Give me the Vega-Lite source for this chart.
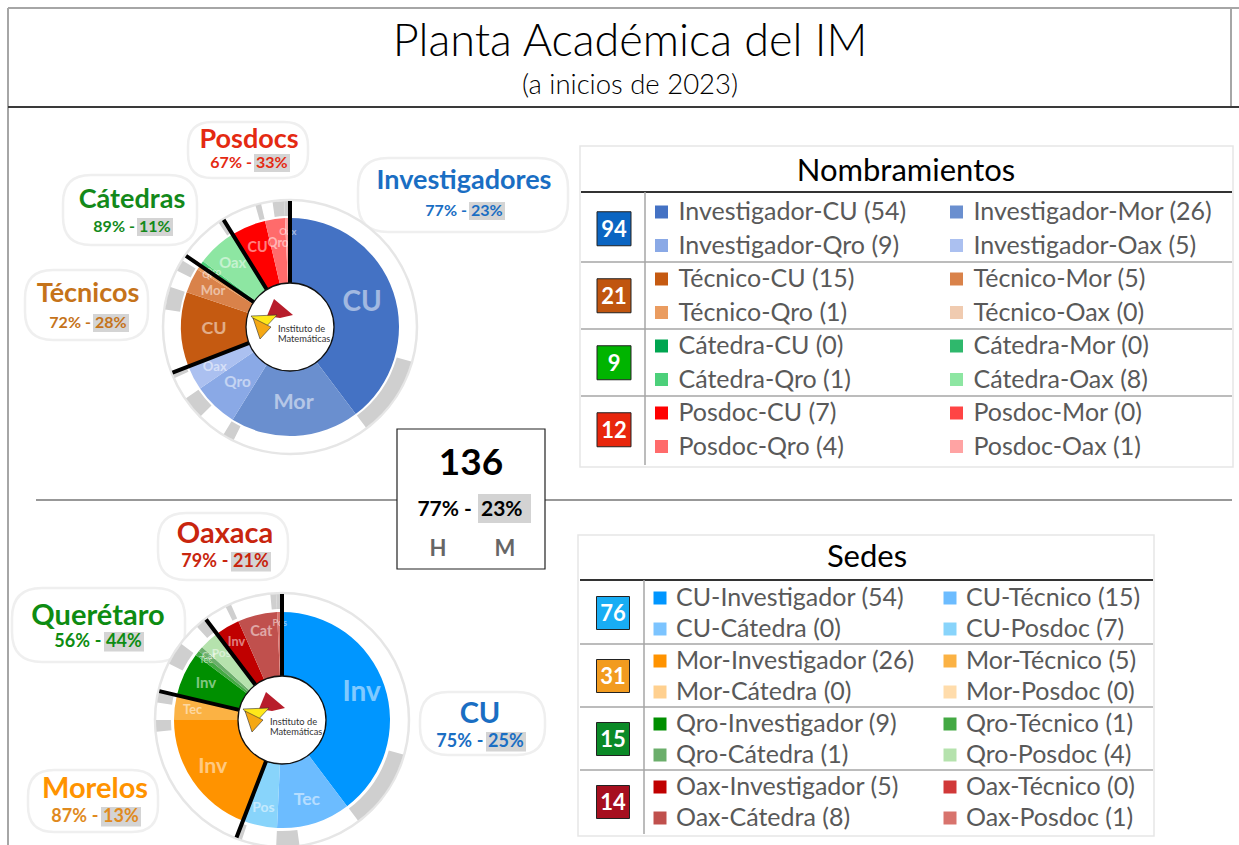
{
"$schema": "https://vega.github.io/schema/vega-lite/v6.json",
"width": 1239, "height": 845, "padding": 0, "autosize": {"type": "none"}, "background": "white",
"config": {"view": {"stroke": null}, "axis": {"disable": true}, "legend": {"disable": true}, "text": {"font": "Lato"}},
"datasets": {
 "plantilla": [
  {"tipo": "Investigador", "sede": "CU", "total": 54, "hombres": 40, "mujeres": 14},
  {"tipo": "Investigador", "sede": "Mor", "total": 26, "hombres": 24, "mujeres": 2},
  {"tipo": "Investigador", "sede": "Qro", "total": 9, "hombres": 5, "mujeres": 4},
  {"tipo": "Investigador", "sede": "Oax", "total": 5, "hombres": 4, "mujeres": 1},
  {"tipo": "Técnico", "sede": "CU", "total": 15, "hombres": 11, "mujeres": 4},
  {"tipo": "Técnico", "sede": "Mor", "total": 5, "hombres": 3, "mujeres": 2},
  {"tipo": "Técnico", "sede": "Qro", "total": 1, "hombres": 1, "mujeres": 0},
  {"tipo": "Técnico", "sede": "Oax", "total": 0, "hombres": 0, "mujeres": 0},
  {"tipo": "Cátedra", "sede": "CU", "total": 0, "hombres": 0, "mujeres": 0},
  {"tipo": "Cátedra", "sede": "Mor", "total": 0, "hombres": 0, "mujeres": 0},
  {"tipo": "Cátedra", "sede": "Qro", "total": 1, "hombres": 1, "mujeres": 0},
  {"tipo": "Cátedra", "sede": "Oax", "total": 8, "hombres": 7, "mujeres": 1},
  {"tipo": "Posdoc", "sede": "CU", "total": 7, "hombres": 6, "mujeres": 1},
  {"tipo": "Posdoc", "sede": "Mor", "total": 0, "hombres": 0, "mujeres": 0},
  {"tipo": "Posdoc", "sede": "Qro", "total": 4, "hombres": 2, "mujeres": 2},
  {"tipo": "Posdoc", "sede": "Oax", "total": 1, "hombres": 0, "mujeres": 1}
 ],
 "tipos": [
  {"tipo": "Investigador", "grupo": "Investigadores", "abrev": "Inv", "n": 94, "pH": 0.77, "pM": 0.23, "ot": 1},
  {"tipo": "Técnico", "grupo": "Técnicos", "abrev": "Tec", "n": 21, "pH": 0.72, "pM": 0.28, "ot": 2},
  {"tipo": "Cátedra", "grupo": "Cátedras", "abrev": "Cat", "n": 9, "pH": 0.89, "pM": 0.11, "ot": 3},
  {"tipo": "Posdoc", "grupo": "Posdocs", "abrev": "Pos", "n": 12, "pH": 0.67, "pM": 0.33, "ot": 4}
 ],
 "sedes": [
  {"sede": "CU", "nombre": "CU", "n": 76, "pH": 0.75, "pM": 0.25, "os": 1},
  {"sede": "Mor", "nombre": "Morelos", "n": 31, "pH": 0.87, "pM": 0.13, "os": 2},
  {"sede": "Qro", "nombre": "Querétaro", "n": 15, "pH": 0.56, "pM": 0.44, "os": 3},
  {"sede": "Oax", "nombre": "Oaxaca", "n": 14, "pH": 0.79, "pM": 0.21, "os": 4}
 ],
 "resumen": [{"total": 136, "pH": 0.77, "pM": 0.23}],
 "paneles": [{"panel": "Nombramientos"}, {"panel": "Sedes"}],
 "marco": [{}]
},
"resolve": {"scale": {"x": "independent", "y": "independent", "color": "independent", "size": "independent", "shape": "independent"}},
"layer": [
 {"data": {"name": "marco"}, "mark": {"type": "rule", "stroke": "#a6a6a6", "strokeWidth": 2},
  "encoding": {"x": {"datum": 8, "type": "quantitative", "scale": {"domain": [0, 1239], "range": [0, 1239], "nice": false, "zero": false}, "axis": null}, "x2": {"datum": 1239},
   "y": {"datum": 8, "type": "quantitative", "scale": {"domain": [0, 845], "range": [0, 845], "nice": false, "zero": false}, "axis": null}}},
 {"data": {"name": "marco"}, "mark": {"type": "rule", "stroke": "#a6a6a6", "strokeWidth": 2},
  "encoding": {"x": {"datum": 8, "type": "quantitative", "scale": {"domain": [0, 1239], "range": [0, 1239], "nice": false, "zero": false}, "axis": null},
   "y": {"datum": 8, "type": "quantitative", "scale": {"domain": [0, 845], "range": [0, 845], "nice": false, "zero": false}, "axis": null}, "y2": {"datum": 845}}},
 {"data": {"name": "marco"}, "mark": {"type": "rule", "stroke": "#a6a6a6", "strokeWidth": 2},
  "encoding": {"x": {"datum": 1231, "type": "quantitative", "scale": {"domain": [0, 1239], "range": [0, 1239], "nice": false, "zero": false}, "axis": null},
   "y": {"datum": 8, "type": "quantitative", "scale": {"domain": [0, 845], "range": [0, 845], "nice": false, "zero": false}, "axis": null}, "y2": {"datum": 107}}},
 {"data": {"name": "marco"}, "mark": {"type": "rule", "stroke": "#3a3a3a", "strokeWidth": 2},
  "encoding": {"x": {"datum": 8, "type": "quantitative", "scale": {"domain": [0, 1239], "range": [0, 1239], "nice": false, "zero": false}, "axis": null}, "x2": {"datum": 1239},
   "y": {"datum": 107, "type": "quantitative", "scale": {"domain": [0, 845], "range": [0, 845], "nice": false, "zero": false}, "axis": null}}},
 {"data": {"name": "marco"}, "mark": {"type": "text", "text": "Planta Académica del IM", "font": "Lato", "fontSize": 45, "fontWeight": 300, "align": "center", "baseline": "alphabetic", "color": "#000000"},
  "encoding": {"x": {"datum": 630, "type": "quantitative", "scale": {"domain": [0, 1239], "range": [0, 1239], "nice": false, "zero": false}, "axis": null},
   "y": {"datum": 56, "type": "quantitative", "scale": {"domain": [0, 845], "range": [0, 845], "nice": false, "zero": false}, "axis": null}}},
 {"data": {"name": "marco"}, "mark": {"type": "text", "text": "(a inicios de 2023)", "font": "Lato", "fontSize": 27.5, "fontWeight": 300, "align": "center", "baseline": "alphabetic", "color": "#000000"},
  "encoding": {"x": {"datum": 630, "type": "quantitative", "scale": {"domain": [0, 1239], "range": [0, 1239], "nice": false, "zero": false}, "axis": null},
   "y": {"datum": 94, "type": "quantitative", "scale": {"domain": [0, 845], "range": [0, 845], "nice": false, "zero": false}, "axis": null}}},
 {"data": {"name": "marco"}, "mark": {"type": "rule", "stroke": "#333333", "strokeWidth": 1.2},
  "encoding": {"x": {"datum": 36, "type": "quantitative", "scale": {"domain": [0, 1239], "range": [0, 1239], "nice": false, "zero": false}, "axis": null}, "x2": {"datum": 1232},
   "y": {"datum": 500, "type": "quantitative", "scale": {"domain": [0, 845], "range": [0, 845], "nice": false, "zero": false}, "axis": null}}},
 {"data": {"name": "marco"}, "mark": {"type": "rect", "fill": "white", "stroke": "#e6e6e6", "strokeWidth": 1.5},
  "encoding": {"x": {"datum": 580, "type": "quantitative", "scale": {"domain": [0, 1239], "range": [0, 1239], "nice": false, "zero": false}, "axis": null}, "x2": {"datum": 1233},
   "y": {"datum": 146, "type": "quantitative", "scale": {"domain": [0, 845], "range": [0, 845], "nice": false, "zero": false}, "axis": null}, "y2": {"datum": 467}}},
 {"data": {"name": "marco"}, "mark": {"type": "rect", "fill": "white", "stroke": "#e6e6e6", "strokeWidth": 1.5},
  "encoding": {"x": {"datum": 578, "type": "quantitative", "scale": {"domain": [0, 1239], "range": [0, 1239], "nice": false, "zero": false}, "axis": null}, "x2": {"datum": 1154},
   "y": {"datum": 535, "type": "quantitative", "scale": {"domain": [0, 845], "range": [0, 845], "nice": false, "zero": false}, "axis": null}, "y2": {"datum": 836}}},

 {"data": {"name": "tipos"}, "mark": {"type": "point", "size": 4, "filled": true, "fill": "white", "opacity": 1, "stroke": "#efefef", "strokeWidth": 2.5},
  "encoding": {"x": {"field": "ot", "type": "quantitative", "scale": {"domain": [1, 2, 3, 4], "range": [464, 88, 132, 249], "nice": false, "zero": false}, "axis": null},
   "y": {"field": "ot", "type": "quantitative", "scale": {"domain": [1, 2, 3, 4], "range": [189, 302, 208, 148], "nice": false, "zero": false}, "axis": null},
   "shape": {"field": "tipo", "type": "nominal", "scale": {"domain": ["Investigador", "Técnico", "Cátedra", "Posdoc"], "range": [
     "M -76 -31 H 74 Q 104 -31 104 -1 V 13 Q 104 43 74 43 H -76 Q -106 43 -106 13 V -1 Q -106 -31 -76 -31 Z",
     "M -35 -32 H 32 Q 60 -32 60 -4 V 10 Q 60 38 32 38 H -35 Q -63 38 -63 10 V -4 Q -63 -32 -35 -32 Z",
     "M -41 -33 H 37 Q 65 -33 65 -5 V 9 Q 65 37 37 37 H -41 Q -69 37 -69 9 V -5 Q -69 -33 -41 -33 Z",
     "M -37 -26 H 35 Q 59 -26 59 -2 V 6 Q 59 30 35 30 H -37 Q -61 30 -61 6 V -2 Q -61 -26 -37 -26 Z"]}, "legend": null}}},
 {"data": {"name": "sedes"}, "mark": {"type": "point", "size": 4, "filled": true, "fill": "white", "opacity": 1, "stroke": "#efefef", "strokeWidth": 2.5},
  "encoding": {"x": {"field": "os", "type": "quantitative", "scale": {"domain": [1, 2, 3, 4], "range": [480, 95, 98, 225], "nice": false, "zero": false}, "axis": null},
   "y": {"field": "os", "type": "quantitative", "scale": {"domain": [1, 2, 3, 4], "range": [723, 798, 625, 543], "nice": false, "zero": false}, "axis": null},
   "shape": {"field": "sede", "type": "nominal", "scale": {"domain": ["CU", "Mor", "Qro", "Oax"], "range": [
     "M -32 -31 H 37 Q 65 -31 65 -3 V 4 Q 65 32 37 32 H -32 Q -60 32 -60 4 V -3 Q -60 -31 -32 -31 Z",
     "M -41 -28 H 37 Q 63 -28 63 -2 V 8 Q 63 34 37 34 H -41 Q -67 34 -67 8 V -2 Q -67 -28 -41 -28 Z",
     "M -56 -37 H 57 Q 87 -37 87 -7 V 7 Q 87 37 57 37 H -56 Q -86 37 -86 7 V -7 Q -86 -37 -56 -37 Z",
     "M -39 -30 H 35 Q 63 -30 63 -2 V 9 Q 63 37 35 37 H -39 Q -67 37 -67 9 V -2 Q -67 -30 -39 -30 Z"]}, "legend": null}}},

 {"data": {"name": "paneles"}, "mark": {"type": "arc", "outerRadius": 127, "innerRadius": 0, "fill": "white", "stroke": "#e6e6e6", "strokeWidth": 2.5},
  "encoding": {"x": {"field": "panel", "type": "nominal", "scale": {"type": "point", "domain": ["Nombramientos", "Sedes"], "range": [290, 282], "padding": 0}, "axis": null},
   "y": {"field": "panel", "type": "nominal", "scale": {"type": "point", "domain": ["Nombramientos", "Sedes"], "range": [327, 720], "padding": 0}, "axis": null}}},

 {"data": {"name": "plantilla"},
  "transform": [
   {"lookup": "tipo", "from": {"data": {"name": "tipos"}, "key": "tipo", "fields": ["ot"]}},
   {"lookup": "sede", "from": {"data": {"name": "sedes"}, "key": "sede", "fields": ["os"]}},
   {"fold": ["hombres", "mujeres"], "as": ["genero", "personas"]},
   {"calculate": "datum.ot + '-' + datum.os + '-' + datum.genero", "as": "k"}
  ],
  "mark": {"type": "arc", "innerRadius": 111, "outerRadius": 126},
  "encoding": {
   "x": {"datum": "Nombramientos", "type": "nominal", "scale": {"type": "point", "domain": ["Nombramientos", "Sedes"], "range": [290, 282], "padding": 0}, "axis": null},
   "y": {"datum": "Nombramientos", "type": "nominal", "scale": {"type": "point", "domain": ["Nombramientos", "Sedes"], "range": [327, 720], "padding": 0}, "axis": null},
   "theta": {"field": "personas", "type": "quantitative", "stack": true, "scale": {"domain": [0, 136]}},
   "color": {"field": "k", "type": "nominal", "scale": {"range": ["rgba(255,255,255,0)", "#cfcfcf"]}, "legend": null}
  }},
 {"data": {"name": "plantilla"},
  "transform": [
   {"lookup": "tipo", "from": {"data": {"name": "tipos"}, "key": "tipo", "fields": ["ot"]}},
   {"lookup": "sede", "from": {"data": {"name": "sedes"}, "key": "sede", "fields": ["os"]}},
   {"calculate": "datum.ot + '-' + datum.os", "as": "k"}
  ],
  "mark": {"type": "arc", "innerRadius": 43, "outerRadius": 109},
  "encoding": {
   "x": {"datum": "Nombramientos", "type": "nominal", "scale": {"type": "point", "domain": ["Nombramientos", "Sedes"], "range": [290, 282], "padding": 0}, "axis": null},
   "y": {"datum": "Nombramientos", "type": "nominal", "scale": {"type": "point", "domain": ["Nombramientos", "Sedes"], "range": [327, 720], "padding": 0}, "axis": null},
   "theta": {"field": "total", "type": "quantitative", "stack": true, "scale": {"domain": [0, 136]}},
   "color": {"field": "k", "type": "nominal", "scale": {"domain": ["1-1", "1-2", "1-3", "1-4", "2-1", "2-2", "2-3", "2-4", "3-1", "3-2", "3-3", "3-4", "4-1", "4-2", "4-3", "4-4"], "range": ["#4472C4", "#6A8FCF", "#8AA9E6", "#ABC0F0", "#C55A11", "#D9824A", "#EA9C60", "#F0CBB0", "#00A550", "#2FB86C", "#4CD07A", "#8DE6A2", "#FF0000", "#FF4444", "#FF6B6B", "#FFA3A3"]}, "legend": null}
  }},
 {"data": {"name": "plantilla"},
  "transform": [
   {"lookup": "tipo", "from": {"data": {"name": "tipos"}, "key": "tipo", "fields": ["ot"]}},
   {"lookup": "sede", "from": {"data": {"name": "sedes"}, "key": "sede", "fields": ["os"]}},
   {"calculate": "datum.ot + '-' + datum.os", "as": "k"},
   {"filter": "datum.total > 0"}
  ],
  "mark": {"type": "text", "radius": {"expr": "datum.total >= 9 ? 76 : (datum.total >= 4 ? 85 : 95)"}, "font": "Lato", "fontWeight": "bold", "opacity": 0.5, "align": "center", "baseline": "middle"},
  "encoding": {
   "x": {"datum": "Nombramientos", "type": "nominal", "scale": {"type": "point", "domain": ["Nombramientos", "Sedes"], "range": [290, 282], "padding": 0}, "axis": null},
   "y": {"datum": "Nombramientos", "type": "nominal", "scale": {"type": "point", "domain": ["Nombramientos", "Sedes"], "range": [327, 720], "padding": 0}, "axis": null},
   "theta": {"field": "total", "type": "quantitative", "stack": true, "scale": {"domain": [0, 136]}},
   "color": {"field": "k", "type": "nominal", "scale": {"range": ["#ffffff"]}, "legend": null},
   "text": {"field": "sede", "type": "nominal"},
   "size": {"field": "total", "type": "quantitative", "scale": {"type": "sqrt", "domain": [1, 54], "range": [9.5, 28]}, "legend": null}
  }},
 {"data": {"name": "tipos"},
  "transform": [{"stack": "n", "groupby": [], "sort": [{"field": "ot", "order": "ascending"}], "as": ["a0", "a1"]}],
  "mark": {"type": "arc", "innerRadius": 43, "outerRadius": 126, "filled": false, "stroke": "black", "strokeWidth": 4},
  "encoding": {
   "x": {"datum": "Nombramientos", "type": "nominal", "scale": {"type": "point", "domain": ["Nombramientos", "Sedes"], "range": [290, 282], "padding": 0}, "axis": null},
   "y": {"datum": "Nombramientos", "type": "nominal", "scale": {"type": "point", "domain": ["Nombramientos", "Sedes"], "range": [327, 720], "padding": 0}, "axis": null},
   "theta": {"field": "a0", "type": "quantitative", "stack": null, "scale": {"domain": [0, 136]}},
   "theta2": {"field": "a0"}
  }},

 {"data": {"name": "plantilla"},
  "transform": [
   {"lookup": "tipo", "from": {"data": {"name": "tipos"}, "key": "tipo", "fields": ["ot"]}},
   {"lookup": "sede", "from": {"data": {"name": "sedes"}, "key": "sede", "fields": ["os"]}},
   {"fold": ["hombres", "mujeres"], "as": ["genero", "personas"]},
   {"calculate": "datum.os + '-' + datum.ot + '-' + datum.genero", "as": "k"}
  ],
  "mark": {"type": "arc", "innerRadius": 111, "outerRadius": 126},
  "encoding": {
   "x": {"datum": "Sedes", "type": "nominal", "scale": {"type": "point", "domain": ["Nombramientos", "Sedes"], "range": [290, 282], "padding": 0}, "axis": null},
   "y": {"datum": "Sedes", "type": "nominal", "scale": {"type": "point", "domain": ["Nombramientos", "Sedes"], "range": [327, 720], "padding": 0}, "axis": null},
   "theta": {"field": "personas", "type": "quantitative", "stack": true, "scale": {"domain": [0, 136]}},
   "color": {"field": "k", "type": "nominal", "scale": {"range": ["rgba(255,255,255,0)", "#cfcfcf"]}, "legend": null}
  }},
 {"data": {"name": "plantilla"},
  "transform": [
   {"lookup": "tipo", "from": {"data": {"name": "tipos"}, "key": "tipo", "fields": ["ot"]}},
   {"lookup": "sede", "from": {"data": {"name": "sedes"}, "key": "sede", "fields": ["os"]}},
   {"calculate": "datum.os + '-' + datum.ot", "as": "k"}
  ],
  "mark": {"type": "arc", "innerRadius": 43, "outerRadius": 108},
  "encoding": {
   "x": {"datum": "Sedes", "type": "nominal", "scale": {"type": "point", "domain": ["Nombramientos", "Sedes"], "range": [290, 282], "padding": 0}, "axis": null},
   "y": {"datum": "Sedes", "type": "nominal", "scale": {"type": "point", "domain": ["Nombramientos", "Sedes"], "range": [327, 720], "padding": 0}, "axis": null},
   "theta": {"field": "total", "type": "quantitative", "stack": true, "scale": {"domain": [0, 136]}},
   "color": {"field": "k", "type": "nominal", "scale": {"domain": ["1-1", "1-2", "1-3", "1-4", "2-1", "2-2", "2-3", "2-4", "3-1", "3-2", "3-3", "3-4", "4-1", "4-2", "4-3", "4-4"], "range": ["#0096FF", "#6CBCFF", "#7CC4FF", "#88D4FB", "#FF9300", "#FBB244", "#FFD08F", "#FFDCAB", "#008F00", "#43A943", "#6BAE6B", "#B5E2AD", "#C00000", "#D13838", "#C0504D", "#D8736D"]}, "legend": null}
  }},
 {"data": {"name": "plantilla"},
  "transform": [
   {"lookup": "tipo", "from": {"data": {"name": "tipos"}, "key": "tipo", "fields": ["ot", "abrev"]}},
   {"lookup": "sede", "from": {"data": {"name": "sedes"}, "key": "sede", "fields": ["os"]}},
   {"calculate": "datum.os + '-' + datum.ot", "as": "k"},
   {"filter": "datum.total > 0"}
  ],
  "mark": {"type": "text", "radius": {"expr": "datum.total >= 9 ? 84 : (datum.total >= 4 ? 90 : 97)"}, "font": "Lato", "fontWeight": "bold", "opacity": 0.5, "align": "center", "baseline": "middle"},
  "encoding": {
   "x": {"datum": "Sedes", "type": "nominal", "scale": {"type": "point", "domain": ["Nombramientos", "Sedes"], "range": [290, 282], "padding": 0}, "axis": null},
   "y": {"datum": "Sedes", "type": "nominal", "scale": {"type": "point", "domain": ["Nombramientos", "Sedes"], "range": [327, 720], "padding": 0}, "axis": null},
   "theta": {"field": "total", "type": "quantitative", "stack": true, "scale": {"domain": [0, 136]}},
   "color": {"field": "k", "type": "nominal", "scale": {"range": ["#ffffff"]}, "legend": null},
   "text": {"field": "abrev", "type": "nominal"},
   "size": {"field": "total", "type": "quantitative", "scale": {"type": "sqrt", "domain": [1, 54], "range": [9, 28]}, "legend": null}
  }},
 {"data": {"name": "sedes"},
  "transform": [{"stack": "n", "groupby": [], "sort": [{"field": "os", "order": "ascending"}], "as": ["a0", "a1"]}],
  "mark": {"type": "arc", "innerRadius": 43, "outerRadius": 126, "filled": false, "stroke": "black", "strokeWidth": 4},
  "encoding": {
   "x": {"datum": "Sedes", "type": "nominal", "scale": {"type": "point", "domain": ["Nombramientos", "Sedes"], "range": [290, 282], "padding": 0}, "axis": null},
   "y": {"datum": "Sedes", "type": "nominal", "scale": {"type": "point", "domain": ["Nombramientos", "Sedes"], "range": [327, 720], "padding": 0}, "axis": null},
   "theta": {"field": "a0", "type": "quantitative", "stack": null, "scale": {"domain": [0, 136]}},
   "theta2": {"field": "a0"}
  }},

 {"data": {"name": "paneles"}, "mark": {"type": "arc", "outerRadius": 44, "innerRadius": 0, "fill": "white", "stroke": "#111111", "strokeWidth": 1.3},
  "encoding": {"x": {"field": "panel", "type": "nominal", "scale": {"type": "point", "domain": ["Nombramientos", "Sedes"], "range": [290, 282], "padding": 0}, "axis": null},
   "y": {"field": "panel", "type": "nominal", "scale": {"type": "point", "domain": ["Nombramientos", "Sedes"], "range": [327, 720], "padding": 0}, "axis": null}}},
 {"data": {"name": "paneles"}, "mark": {"type": "point", "shape": "M -16 -28 L 3 -12 L -10 -9 L -23 -11 Z", "size": 4, "filled": true, "color": "#B81D2B", "opacity": 1, "strokeWidth": 0},
  "encoding": {"x": {"field": "panel", "type": "nominal", "scale": {"type": "point", "domain": ["Nombramientos", "Sedes"], "range": [290, 282], "padding": 0}, "axis": null},
   "y": {"field": "panel", "type": "nominal", "scale": {"type": "point", "domain": ["Nombramientos", "Sedes"], "range": [327, 720], "padding": 0}, "axis": null}}},
 {"data": {"name": "paneles"}, "mark": {"type": "point", "shape": "M -39 -11 L -13 -12 L -27 3 Z", "size": 4, "filled": true, "color": "#FFE81A", "opacity": 1, "stroke": "#333333", "strokeWidth": 0.6},
  "encoding": {"x": {"field": "panel", "type": "nominal", "scale": {"type": "point", "domain": ["Nombramientos", "Sedes"], "range": [290, 282], "padding": 0}, "axis": null},
   "y": {"field": "panel", "type": "nominal", "scale": {"type": "point", "domain": ["Nombramientos", "Sedes"], "range": [327, 720], "padding": 0}, "axis": null}}},
 {"data": {"name": "paneles"}, "mark": {"type": "point", "shape": "M -37 -9 L -19 0 L -30 12 Z", "size": 4, "filled": true, "color": "#F5A814", "opacity": 1, "stroke": "#333333", "strokeWidth": 0.6},
  "encoding": {"x": {"field": "panel", "type": "nominal", "scale": {"type": "point", "domain": ["Nombramientos", "Sedes"], "range": [290, 282], "padding": 0}, "axis": null},
   "y": {"field": "panel", "type": "nominal", "scale": {"type": "point", "domain": ["Nombramientos", "Sedes"], "range": [327, 720], "padding": 0}, "axis": null}}},
 {"data": {"name": "paneles"}, "mark": {"type": "text", "text": "Instituto de", "font": "Lato", "fontSize": 9.3, "color": "#333333", "align": "left", "baseline": "alphabetic", "dx": -12, "dy": 5},
  "encoding": {"x": {"field": "panel", "type": "nominal", "scale": {"type": "point", "domain": ["Nombramientos", "Sedes"], "range": [290, 282], "padding": 0}, "axis": null},
   "y": {"field": "panel", "type": "nominal", "scale": {"type": "point", "domain": ["Nombramientos", "Sedes"], "range": [327, 720], "padding": 0}, "axis": null}}},
 {"data": {"name": "paneles"}, "mark": {"type": "text", "text": "Matemáticas", "font": "Lato", "fontSize": 9.3, "color": "#333333", "align": "left", "baseline": "alphabetic", "dx": -12, "dy": 14.5},
  "encoding": {"x": {"field": "panel", "type": "nominal", "scale": {"type": "point", "domain": ["Nombramientos", "Sedes"], "range": [290, 282], "padding": 0}, "axis": null},
   "y": {"field": "panel", "type": "nominal", "scale": {"type": "point", "domain": ["Nombramientos", "Sedes"], "range": [327, 720], "padding": 0}, "axis": null}}},

 {"data": {"name": "marco"}, "mark": {"type": "rect", "fill": "white", "stroke": "#222222", "strokeWidth": 1.2},
  "encoding": {"x": {"datum": 397, "type": "quantitative", "scale": {"domain": [0, 1239], "range": [0, 1239], "nice": false, "zero": false}, "axis": null}, "x2": {"datum": 545},
   "y": {"datum": 429, "type": "quantitative", "scale": {"domain": [0, 845], "range": [0, 845], "nice": false, "zero": false}, "axis": null}, "y2": {"datum": 569}}},
 {"data": {"name": "marco"}, "mark": {"type": "rect", "fill": "#d3d3d3"},
  "encoding": {"x": {"datum": 478, "type": "quantitative", "scale": {"domain": [0, 1239], "range": [0, 1239], "nice": false, "zero": false}, "axis": null}, "x2": {"datum": 531},
   "y": {"datum": 494, "type": "quantitative", "scale": {"domain": [0, 845], "range": [0, 845], "nice": false, "zero": false}, "axis": null}, "y2": {"datum": 523}}},
 {"data": {"name": "resumen"}, "mark": {"type": "text", "font": "Lato", "fontSize": 37, "fontWeight": "bold", "color": "#000000", "align": "center", "baseline": "alphabetic"},
  "encoding": {"x": {"datum": 471, "type": "quantitative", "scale": {"domain": [0, 1239], "range": [0, 1239], "nice": false, "zero": false}, "axis": null},
   "y": {"datum": 475, "type": "quantitative", "scale": {"domain": [0, 845], "range": [0, 845], "nice": false, "zero": false}, "axis": null},
   "text": {"field": "total", "type": "quantitative"}}},
 {"data": {"name": "resumen"}, "mark": {"type": "text", "font": "Lato", "fontSize": 21, "fontWeight": "bold", "color": "#000000", "align": "right", "baseline": "alphabetic"},
  "encoding": {"x": {"datum": 459, "type": "quantitative", "scale": {"domain": [0, 1239], "range": [0, 1239], "nice": false, "zero": false}, "axis": null},
   "y": {"datum": 516, "type": "quantitative", "scale": {"domain": [0, 845], "range": [0, 845], "nice": false, "zero": false}, "axis": null},
   "text": {"field": "pH", "type": "quantitative", "format": ".0%"}}},
 {"data": {"name": "resumen"}, "mark": {"type": "text", "text": "-", "font": "Lato", "fontSize": 21, "fontWeight": "bold", "color": "#000000", "align": "center", "baseline": "alphabetic"},
  "encoding": {"x": {"datum": 468, "type": "quantitative", "scale": {"domain": [0, 1239], "range": [0, 1239], "nice": false, "zero": false}, "axis": null},
   "y": {"datum": 516, "type": "quantitative", "scale": {"domain": [0, 845], "range": [0, 845], "nice": false, "zero": false}, "axis": null}}},
 {"data": {"name": "resumen"}, "mark": {"type": "text", "font": "Lato", "fontSize": 21, "fontWeight": "bold", "color": "#000000", "align": "left", "baseline": "alphabetic"},
  "encoding": {"x": {"datum": 481, "type": "quantitative", "scale": {"domain": [0, 1239], "range": [0, 1239], "nice": false, "zero": false}, "axis": null},
   "y": {"datum": 516, "type": "quantitative", "scale": {"domain": [0, 845], "range": [0, 845], "nice": false, "zero": false}, "axis": null},
   "text": {"field": "pM", "type": "quantitative", "format": ".0%"}}},
 {"data": {"name": "marco"}, "mark": {"type": "text", "text": "H", "font": "Lato", "fontSize": 22, "fontWeight": "bold", "color": "#666666", "align": "center", "baseline": "alphabetic"},
  "encoding": {"x": {"datum": 438, "type": "quantitative", "scale": {"domain": [0, 1239], "range": [0, 1239], "nice": false, "zero": false}, "axis": null},
   "y": {"datum": 556, "type": "quantitative", "scale": {"domain": [0, 845], "range": [0, 845], "nice": false, "zero": false}, "axis": null}}},
 {"data": {"name": "marco"}, "mark": {"type": "text", "text": "M", "font": "Lato", "fontSize": 22, "fontWeight": "bold", "color": "#666666", "align": "center", "baseline": "alphabetic"},
  "encoding": {"x": {"datum": 505, "type": "quantitative", "scale": {"domain": [0, 1239], "range": [0, 1239], "nice": false, "zero": false}, "axis": null},
   "y": {"datum": 556, "type": "quantitative", "scale": {"domain": [0, 845], "range": [0, 845], "nice": false, "zero": false}, "axis": null}}},

 {"data": {"name": "marco"}, "mark": {"type": "text", "text": "Nombramientos", "font": "Lato", "fontSize": 31, "color": "#000000", "align": "center", "baseline": "alphabetic"},
  "encoding": {"x": {"datum": 906, "type": "quantitative", "scale": {"domain": [0, 1239], "range": [0, 1239], "nice": false, "zero": false}, "axis": null},
   "y": {"datum": 181, "type": "quantitative", "scale": {"domain": [0, 845], "range": [0, 845], "nice": false, "zero": false}, "axis": null}}},
 {"data": {"name": "marco"}, "mark": {"type": "rule", "stroke": "#333333", "strokeWidth": 2},
  "encoding": {"x": {"datum": 581, "type": "quantitative", "scale": {"domain": [0, 1239], "range": [0, 1239], "nice": false, "zero": false}, "axis": null}, "x2": {"datum": 1232},
   "y": {"datum": 192, "type": "quantitative", "scale": {"domain": [0, 845], "range": [0, 845], "nice": false, "zero": false}, "axis": null}}},
 {"data": {"name": "tipos"}, "transform": [{"filter": "datum.ot > 1"}], "mark": {"type": "rule", "stroke": "#a6a6a6", "strokeWidth": 1.5},
  "encoding": {"x": {"datum": 581, "type": "quantitative", "scale": {"domain": [0, 1239], "range": [0, 1239], "nice": false, "zero": false}, "axis": null}, "x2": {"datum": 1232},
   "y": {"field": "tipo", "type": "nominal", "scale": {"type": "point", "domain": ["Técnico", "Cátedra", "Posdoc"], "range": [262, 396], "padding": 0}, "axis": null}}},
 {"data": {"name": "marco"}, "mark": {"type": "rule", "stroke": "#a6a6a6", "strokeWidth": 1.5},
  "encoding": {"x": {"datum": 645, "type": "quantitative", "scale": {"domain": [0, 1239], "range": [0, 1239], "nice": false, "zero": false}, "axis": null},
   "y": {"datum": 192, "type": "quantitative", "scale": {"domain": [0, 845], "range": [0, 845], "nice": false, "zero": false}, "axis": null}, "y2": {"datum": 465}}},
 {"data": {"name": "tipos"}, "mark": {"type": "point", "shape": "square", "size": 1156, "filled": true, "opacity": 1, "stroke": "#222222", "strokeWidth": 1},
  "encoding": {"x": {"datum": 614, "type": "quantitative", "scale": {"domain": [0, 1239], "range": [0, 1239], "nice": false, "zero": false}, "axis": null},
   "y": {"field": "tipo", "type": "nominal", "scale": {"type": "point", "domain": ["Investigador", "Técnico", "Cátedra", "Posdoc"], "range": [228.75, 429.75], "padding": 0}, "axis": null},
   "color": {"field": "tipo", "type": "nominal", "scale": {"domain": ["Investigador", "Técnico", "Cátedra", "Posdoc"], "range": ["#0B65C2", "#C0550F", "#00B400", "#E8260C"]}, "legend": null}}},
 {"data": {"name": "tipos"}, "mark": {"type": "text", "font": "Lato", "fontSize": 22, "fontWeight": "bold", "color": "white", "align": "center", "baseline": "middle", "dy": 1},
  "encoding": {"x": {"datum": 614, "type": "quantitative", "scale": {"domain": [0, 1239], "range": [0, 1239], "nice": false, "zero": false}, "axis": null},
   "y": {"field": "tipo", "type": "nominal", "scale": {"type": "point", "domain": ["Investigador", "Técnico", "Cátedra", "Posdoc"], "range": [228.75, 429.75], "padding": 0}, "axis": null},
   "text": {"field": "n", "type": "quantitative"}}},
 {"data": {"name": "plantilla"}, "transform": [
   {"lookup": "tipo", "from": {"data": {"name": "tipos"}, "key": "tipo", "fields": ["ot"]}},
   {"lookup": "sede", "from": {"data": {"name": "sedes"}, "key": "sede", "fields": ["os"]}},
   {"calculate": "datum.ot + '-' + datum.os", "as": "k"}, {"filter": "datum.sede == 'CU' || datum.sede == 'Mor'"}],
  "mark": {"type": "point", "shape": "square", "size": 169, "filled": true, "opacity": 1},
  "encoding": {"x": {"field": "sede", "type": "nominal", "scale": {"type": "point", "domain": ["CU", "Mor"], "range": [661.5, 956.5], "padding": 0}, "axis": null},
   "y": {"field": "tipo", "type": "nominal", "scale": {"type": "point", "domain": ["Investigador", "Técnico", "Cátedra", "Posdoc"], "range": [212, 413], "padding": 0}, "axis": null},
   "color": {"field": "k", "type": "nominal", "scale": {"domain": ["1-1", "1-2", "1-3", "1-4", "2-1", "2-2", "2-3", "2-4", "3-1", "3-2", "3-3", "3-4", "4-1", "4-2", "4-3", "4-4"], "range": ["#4472C4", "#6A8FCF", "#8AA9E6", "#ABC0F0", "#C55A11", "#D9824A", "#EA9C60", "#F0CBB0", "#00A550", "#2FB86C", "#4CD07A", "#8DE6A2", "#FF0000", "#FF4444", "#FF6B6B", "#FFA3A3"]}, "legend": null}}},
 {"data": {"name": "plantilla"}, "transform": [
   {"lookup": "tipo", "from": {"data": {"name": "tipos"}, "key": "tipo", "fields": ["ot"]}},
   {"lookup": "sede", "from": {"data": {"name": "sedes"}, "key": "sede", "fields": ["os"]}},
   {"calculate": "datum.ot + '-' + datum.os", "as": "k"}, {"filter": "datum.sede == 'Qro' || datum.sede == 'Oax'"}],
  "mark": {"type": "point", "shape": "square", "size": 169, "filled": true, "opacity": 1},
  "encoding": {"x": {"field": "sede", "type": "nominal", "scale": {"type": "point", "domain": ["Qro", "Oax"], "range": [661.5, 956.5], "padding": 0}, "axis": null},
   "y": {"field": "tipo", "type": "nominal", "scale": {"type": "point", "domain": ["Investigador", "Técnico", "Cátedra", "Posdoc"], "range": [245.5, 446.5], "padding": 0}, "axis": null},
   "color": {"field": "k", "type": "nominal", "scale": {"domain": ["1-1", "1-2", "1-3", "1-4", "2-1", "2-2", "2-3", "2-4", "3-1", "3-2", "3-3", "3-4", "4-1", "4-2", "4-3", "4-4"], "range": ["#4472C4", "#6A8FCF", "#8AA9E6", "#ABC0F0", "#C55A11", "#D9824A", "#EA9C60", "#F0CBB0", "#00A550", "#2FB86C", "#4CD07A", "#8DE6A2", "#FF0000", "#FF4444", "#FF6B6B", "#FFA3A3"]}, "legend": null}}},
 {"data": {"name": "plantilla"}, "transform": [{"calculate": "datum.tipo + '-' + datum.sede + ' (' + datum.total + ')'", "as": "etiqueta"}, {"filter": "datum.sede == 'CU' || datum.sede == 'Mor'"}],
  "mark": {"type": "text", "font": "Lato", "fontSize": 25, "color": "#595959", "align": "left", "baseline": "middle", "dx": 17},
  "encoding": {"x": {"field": "sede", "type": "nominal", "scale": {"type": "point", "domain": ["CU", "Mor"], "range": [661.5, 956.5], "padding": 0}, "axis": null},
   "y": {"field": "tipo", "type": "nominal", "scale": {"type": "point", "domain": ["Investigador", "Técnico", "Cátedra", "Posdoc"], "range": [212, 413], "padding": 0}, "axis": null},
   "text": {"field": "etiqueta", "type": "nominal"}}},
 {"data": {"name": "plantilla"}, "transform": [{"calculate": "datum.tipo + '-' + datum.sede + ' (' + datum.total + ')'", "as": "etiqueta"}, {"filter": "datum.sede == 'Qro' || datum.sede == 'Oax'"}],
  "mark": {"type": "text", "font": "Lato", "fontSize": 25, "color": "#595959", "align": "left", "baseline": "middle", "dx": 17},
  "encoding": {"x": {"field": "sede", "type": "nominal", "scale": {"type": "point", "domain": ["Qro", "Oax"], "range": [661.5, 956.5], "padding": 0}, "axis": null},
   "y": {"field": "tipo", "type": "nominal", "scale": {"type": "point", "domain": ["Investigador", "Técnico", "Cátedra", "Posdoc"], "range": [245.5, 446.5], "padding": 0}, "axis": null},
   "text": {"field": "etiqueta", "type": "nominal"}}},

 {"data": {"name": "marco"}, "mark": {"type": "text", "text": "Sedes", "font": "Lato", "fontSize": 31, "color": "#000000", "align": "center", "baseline": "alphabetic"},
  "encoding": {"x": {"datum": 867, "type": "quantitative", "scale": {"domain": [0, 1239], "range": [0, 1239], "nice": false, "zero": false}, "axis": null},
   "y": {"datum": 567, "type": "quantitative", "scale": {"domain": [0, 845], "range": [0, 845], "nice": false, "zero": false}, "axis": null}}},
 {"data": {"name": "marco"}, "mark": {"type": "rule", "stroke": "#333333", "strokeWidth": 2},
  "encoding": {"x": {"datum": 580, "type": "quantitative", "scale": {"domain": [0, 1239], "range": [0, 1239], "nice": false, "zero": false}, "axis": null}, "x2": {"datum": 1153},
   "y": {"datum": 580, "type": "quantitative", "scale": {"domain": [0, 845], "range": [0, 845], "nice": false, "zero": false}, "axis": null}}},
 {"data": {"name": "sedes"}, "transform": [{"filter": "datum.os > 1"}], "mark": {"type": "rule", "stroke": "#a6a6a6", "strokeWidth": 1.5},
  "encoding": {"x": {"datum": 580, "type": "quantitative", "scale": {"domain": [0, 1239], "range": [0, 1239], "nice": false, "zero": false}, "axis": null}, "x2": {"datum": 1153},
   "y": {"field": "sede", "type": "nominal", "scale": {"type": "point", "domain": ["Mor", "Qro", "Oax"], "range": [644, 770], "padding": 0}, "axis": null}}},
 {"data": {"name": "marco"}, "mark": {"type": "rule", "stroke": "#a6a6a6", "strokeWidth": 1.5},
  "encoding": {"x": {"datum": 644, "type": "quantitative", "scale": {"domain": [0, 1239], "range": [0, 1239], "nice": false, "zero": false}, "axis": null},
   "y": {"datum": 580, "type": "quantitative", "scale": {"domain": [0, 845], "range": [0, 845], "nice": false, "zero": false}, "axis": null}, "y2": {"datum": 834}}},
 {"data": {"name": "sedes"}, "mark": {"type": "point", "shape": "square", "size": 1089, "filled": true, "opacity": 1, "stroke": "#222222", "strokeWidth": 1},
  "encoding": {"x": {"datum": 613, "type": "quantitative", "scale": {"domain": [0, 1239], "range": [0, 1239], "nice": false, "zero": false}, "axis": null},
   "y": {"field": "sede", "type": "nominal", "scale": {"type": "point", "domain": ["CU", "Mor", "Qro", "Oax"], "range": [613, 802], "padding": 0}, "axis": null},
   "color": {"field": "sede", "type": "nominal", "scale": {"domain": ["CU", "Mor", "Qro", "Oax"], "range": ["#18ADF4", "#F29B1F", "#0B8A27", "#A60F1F"]}, "legend": null}}},
 {"data": {"name": "sedes"}, "mark": {"type": "text", "font": "Lato", "fontSize": 22, "fontWeight": "bold", "color": "white", "align": "center", "baseline": "middle", "dy": 1},
  "encoding": {"x": {"datum": 613, "type": "quantitative", "scale": {"domain": [0, 1239], "range": [0, 1239], "nice": false, "zero": false}, "axis": null},
   "y": {"field": "sede", "type": "nominal", "scale": {"type": "point", "domain": ["CU", "Mor", "Qro", "Oax"], "range": [613, 802], "padding": 0}, "axis": null},
   "text": {"field": "n", "type": "quantitative"}}},
 {"data": {"name": "plantilla"}, "transform": [
   {"lookup": "tipo", "from": {"data": {"name": "tipos"}, "key": "tipo", "fields": ["ot"]}},
   {"lookup": "sede", "from": {"data": {"name": "sedes"}, "key": "sede", "fields": ["os"]}},
   {"calculate": "datum.os + '-' + datum.ot", "as": "k"}, {"filter": "datum.tipo == 'Investigador' || datum.tipo == 'Técnico'"}],
  "mark": {"type": "point", "shape": "square", "size": 169, "filled": true, "opacity": 1},
  "encoding": {"x": {"field": "tipo", "type": "nominal", "scale": {"type": "point", "domain": ["Investigador", "Técnico"], "range": [660, 950], "padding": 0}, "axis": null},
   "y": {"field": "sede", "type": "nominal", "scale": {"type": "point", "domain": ["CU", "Mor", "Qro", "Oax"], "range": [598, 787], "padding": 0}, "axis": null},
   "color": {"field": "k", "type": "nominal", "scale": {"domain": ["1-1", "1-2", "1-3", "1-4", "2-1", "2-2", "2-3", "2-4", "3-1", "3-2", "3-3", "3-4", "4-1", "4-2", "4-3", "4-4"], "range": ["#0096FF", "#6CBCFF", "#7CC4FF", "#88D4FB", "#FF9300", "#FBB244", "#FFD08F", "#FFDCAB", "#008F00", "#43A943", "#6BAE6B", "#B5E2AD", "#C00000", "#D13838", "#C0504D", "#D8736D"]}, "legend": null}}},
 {"data": {"name": "plantilla"}, "transform": [
   {"lookup": "tipo", "from": {"data": {"name": "tipos"}, "key": "tipo", "fields": ["ot"]}},
   {"lookup": "sede", "from": {"data": {"name": "sedes"}, "key": "sede", "fields": ["os"]}},
   {"calculate": "datum.os + '-' + datum.ot", "as": "k"}, {"filter": "datum.tipo == 'Cátedra' || datum.tipo == 'Posdoc'"}],
  "mark": {"type": "point", "shape": "square", "size": 169, "filled": true, "opacity": 1},
  "encoding": {"x": {"field": "tipo", "type": "nominal", "scale": {"type": "point", "domain": ["Cátedra", "Posdoc"], "range": [660, 950], "padding": 0}, "axis": null},
   "y": {"field": "sede", "type": "nominal", "scale": {"type": "point", "domain": ["CU", "Mor", "Qro", "Oax"], "range": [629, 818], "padding": 0}, "axis": null},
   "color": {"field": "k", "type": "nominal", "scale": {"domain": ["1-1", "1-2", "1-3", "1-4", "2-1", "2-2", "2-3", "2-4", "3-1", "3-2", "3-3", "3-4", "4-1", "4-2", "4-3", "4-4"], "range": ["#0096FF", "#6CBCFF", "#7CC4FF", "#88D4FB", "#FF9300", "#FBB244", "#FFD08F", "#FFDCAB", "#008F00", "#43A943", "#6BAE6B", "#B5E2AD", "#C00000", "#D13838", "#C0504D", "#D8736D"]}, "legend": null}}},
 {"data": {"name": "plantilla"}, "transform": [{"calculate": "datum.sede + '-' + datum.tipo + ' (' + datum.total + ')'", "as": "etiqueta"}, {"filter": "datum.tipo == 'Investigador' || datum.tipo == 'Técnico'"}],
  "mark": {"type": "text", "font": "Lato", "fontSize": 25, "color": "#595959", "align": "left", "baseline": "middle", "dx": 16},
  "encoding": {"x": {"field": "tipo", "type": "nominal", "scale": {"type": "point", "domain": ["Investigador", "Técnico"], "range": [660, 950], "padding": 0}, "axis": null},
   "y": {"field": "sede", "type": "nominal", "scale": {"type": "point", "domain": ["CU", "Mor", "Qro", "Oax"], "range": [598, 787], "padding": 0}, "axis": null},
   "text": {"field": "etiqueta", "type": "nominal"}}},
 {"data": {"name": "plantilla"}, "transform": [{"calculate": "datum.sede + '-' + datum.tipo + ' (' + datum.total + ')'", "as": "etiqueta"}, {"filter": "datum.tipo == 'Cátedra' || datum.tipo == 'Posdoc'"}],
  "mark": {"type": "text", "font": "Lato", "fontSize": 25, "color": "#595959", "align": "left", "baseline": "middle", "dx": 16},
  "encoding": {"x": {"field": "tipo", "type": "nominal", "scale": {"type": "point", "domain": ["Cátedra", "Posdoc"], "range": [660, 950], "padding": 0}, "axis": null},
   "y": {"field": "sede", "type": "nominal", "scale": {"type": "point", "domain": ["CU", "Mor", "Qro", "Oax"], "range": [629, 818], "padding": 0}, "axis": null},
   "text": {"field": "etiqueta", "type": "nominal"}}},

 {"data": {"name": "tipos"}, "mark": {"type": "text", "font": "Lato", "fontSize": 27, "fontWeight": "bold", "align": "center", "baseline": "alphabetic"},
  "encoding": {"x": {"field": "ot", "type": "quantitative", "scale": {"domain": [1, 2, 3, 4], "range": [464, 88, 132, 249], "nice": false, "zero": false}, "axis": null},
   "y": {"field": "ot", "type": "quantitative", "scale": {"domain": [1, 2, 3, 4], "range": [189, 302, 208, 148], "nice": false, "zero": false}, "axis": null},
   "text": {"field": "grupo", "type": "nominal"},
   "color": {"field": "tipo", "type": "nominal", "scale": {"domain": ["Investigador", "Técnico", "Cátedra", "Posdoc"], "range": ["#1A6EC3", "#C5731A", "#13891A", "#E42A12"]}, "legend": null}}},
 {"data": {"name": "tipos"}, "mark": {"type": "point", "shape": "M 5 -14 H 41 V 4 H 5 Z", "size": 4, "filled": true, "color": "#d4d4d4", "opacity": 1, "strokeWidth": 0},
  "encoding": {"x": {"field": "ot", "type": "quantitative", "scale": {"domain": [1, 2, 3, 4], "range": [464, 88, 132, 249], "nice": false, "zero": false}, "axis": null},
   "y": {"field": "ot", "type": "quantitative", "scale": {"domain": [1, 2, 3, 4], "range": [216, 328, 232, 168], "nice": false, "zero": false}, "axis": null}}},
 {"data": {"name": "tipos"}, "mark": {"type": "text", "font": "Lato", "fontSize": 16, "fontWeight": "bold", "align": "right", "baseline": "alphabetic", "dx": -7},
  "encoding": {"x": {"field": "ot", "type": "quantitative", "scale": {"domain": [1, 2, 3, 4], "range": [464, 88, 132, 249], "nice": false, "zero": false}, "axis": null},
   "y": {"field": "ot", "type": "quantitative", "scale": {"domain": [1, 2, 3, 4], "range": [216, 328, 232, 168], "nice": false, "zero": false}, "axis": null},
   "text": {"field": "pH", "type": "quantitative", "format": ".0%"},
   "color": {"field": "tipo", "type": "nominal", "scale": {"domain": ["Investigador", "Técnico", "Cátedra", "Posdoc"], "range": ["#1A6EC3", "#C5731A", "#13891A", "#E42A12"]}, "legend": null}}},
 {"data": {"name": "tipos"}, "mark": {"type": "text", "text": "-", "font": "Lato", "fontSize": 16, "fontWeight": "bold", "align": "center", "baseline": "alphabetic"},
  "encoding": {"x": {"field": "ot", "type": "quantitative", "scale": {"domain": [1, 2, 3, 4], "range": [464, 88, 132, 249], "nice": false, "zero": false}, "axis": null},
   "y": {"field": "ot", "type": "quantitative", "scale": {"domain": [1, 2, 3, 4], "range": [216, 328, 232, 168], "nice": false, "zero": false}, "axis": null},
   "color": {"field": "tipo", "type": "nominal", "scale": {"domain": ["Investigador", "Técnico", "Cátedra", "Posdoc"], "range": ["#1A6EC3", "#C5731A", "#13891A", "#E42A12"]}, "legend": null}}},
 {"data": {"name": "tipos"}, "mark": {"type": "text", "font": "Lato", "fontSize": 16, "fontWeight": "bold", "align": "left", "baseline": "alphabetic", "dx": 7},
  "encoding": {"x": {"field": "ot", "type": "quantitative", "scale": {"domain": [1, 2, 3, 4], "range": [464, 88, 132, 249], "nice": false, "zero": false}, "axis": null},
   "y": {"field": "ot", "type": "quantitative", "scale": {"domain": [1, 2, 3, 4], "range": [216, 328, 232, 168], "nice": false, "zero": false}, "axis": null},
   "text": {"field": "pM", "type": "quantitative", "format": ".0%"},
   "color": {"field": "tipo", "type": "nominal", "scale": {"domain": ["Investigador", "Técnico", "Cátedra", "Posdoc"], "range": ["#1A6EC3", "#C5731A", "#13891A", "#E42A12"]}, "legend": null}}},

 {"data": {"name": "sedes"}, "mark": {"type": "text", "font": "Lato", "fontSize": 29, "fontWeight": "bold", "align": "center", "baseline": "alphabetic"},
  "encoding": {"x": {"field": "os", "type": "quantitative", "scale": {"domain": [1, 2, 3, 4], "range": [480, 95, 98, 225], "nice": false, "zero": false}, "axis": null},
   "y": {"field": "os", "type": "quantitative", "scale": {"domain": [1, 2, 3, 4], "range": [723, 798, 625, 543], "nice": false, "zero": false}, "axis": null},
   "text": {"field": "nombre", "type": "nominal"},
   "color": {"field": "sede", "type": "nominal", "scale": {"domain": ["CU", "Mor", "Qro", "Oax"], "range": ["#1A6EC3", "#FF9300", "#0E8C12", "#C8250E"]}, "legend": null}}},
 {"data": {"name": "sedes"}, "mark": {"type": "point", "shape": "M 6 -15 H 46 V 4.5 H 6 Z", "size": 4, "filled": true, "color": "#d4d4d4", "opacity": 1, "strokeWidth": 0},
  "encoding": {"x": {"field": "os", "type": "quantitative", "scale": {"domain": [1, 2, 3, 4], "range": [480, 95, 98, 225], "nice": false, "zero": false}, "axis": null},
   "y": {"field": "os", "type": "quantitative", "scale": {"domain": [1, 2, 3, 4], "range": [747, 822, 647, 567], "nice": false, "zero": false}, "axis": null}}},
 {"data": {"name": "sedes"}, "mark": {"type": "text", "font": "Lato", "fontSize": 18, "fontWeight": "bold", "align": "right", "baseline": "alphabetic", "dx": -8},
  "encoding": {"x": {"field": "os", "type": "quantitative", "scale": {"domain": [1, 2, 3, 4], "range": [480, 95, 98, 225], "nice": false, "zero": false}, "axis": null},
   "y": {"field": "os", "type": "quantitative", "scale": {"domain": [1, 2, 3, 4], "range": [747, 822, 647, 567], "nice": false, "zero": false}, "axis": null},
   "text": {"field": "pH", "type": "quantitative", "format": ".0%"},
   "color": {"field": "sede", "type": "nominal", "scale": {"domain": ["CU", "Mor", "Qro", "Oax"], "range": ["#1A6EC3", "#E08A1E", "#0E8C12", "#C8250E"]}, "legend": null}}},
 {"data": {"name": "sedes"}, "mark": {"type": "text", "text": "-", "font": "Lato", "fontSize": 18, "fontWeight": "bold", "align": "center", "baseline": "alphabetic"},
  "encoding": {"x": {"field": "os", "type": "quantitative", "scale": {"domain": [1, 2, 3, 4], "range": [480, 95, 98, 225], "nice": false, "zero": false}, "axis": null},
   "y": {"field": "os", "type": "quantitative", "scale": {"domain": [1, 2, 3, 4], "range": [747, 822, 647, 567], "nice": false, "zero": false}, "axis": null},
   "color": {"field": "sede", "type": "nominal", "scale": {"domain": ["CU", "Mor", "Qro", "Oax"], "range": ["#1A6EC3", "#E08A1E", "#0E8C12", "#C8250E"]}, "legend": null}}},
 {"data": {"name": "sedes"}, "mark": {"type": "text", "font": "Lato", "fontSize": 18, "fontWeight": "bold", "align": "left", "baseline": "alphabetic", "dx": 8},
  "encoding": {"x": {"field": "os", "type": "quantitative", "scale": {"domain": [1, 2, 3, 4], "range": [480, 95, 98, 225], "nice": false, "zero": false}, "axis": null},
   "y": {"field": "os", "type": "quantitative", "scale": {"domain": [1, 2, 3, 4], "range": [747, 822, 647, 567], "nice": false, "zero": false}, "axis": null},
   "text": {"field": "pM", "type": "quantitative", "format": ".0%"},
   "color": {"field": "sede", "type": "nominal", "scale": {"domain": ["CU", "Mor", "Qro", "Oax"], "range": ["#1A6EC3", "#E08A1E", "#0E8C12", "#C8250E"]}, "legend": null}}}
]
}
